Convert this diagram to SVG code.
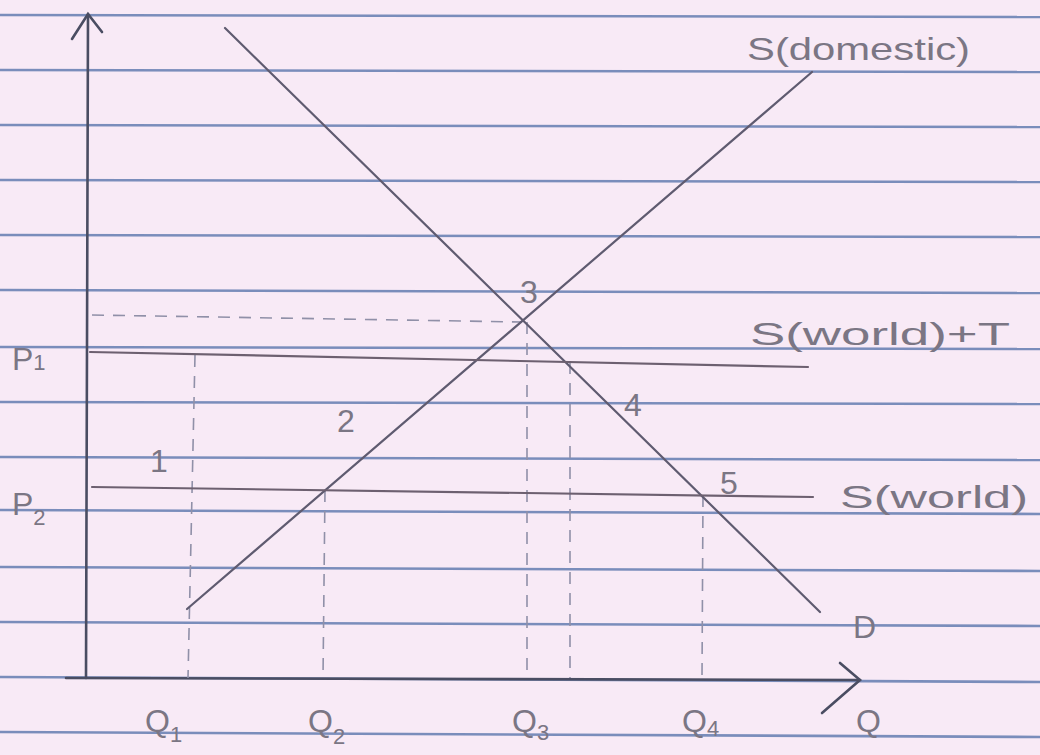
<svg xmlns="http://www.w3.org/2000/svg" width="1040" height="755" viewBox="0 0 1040 755">
<style>
.rule{stroke:#7a8dbb;stroke-width:2.6;fill:none}
.axis{stroke:#4a4d62;stroke-width:2.6;fill:none;stroke-linecap:round}
.curve{stroke:#5f5b70;stroke-width:2.2;fill:none;stroke-linecap:round}
.hline{stroke:#6d6070;stroke-width:2.2;fill:none;stroke-linecap:round}
.dash{stroke:#9090a8;stroke-width:1.6;fill:none;stroke-dasharray:12 9}
.lbl{font-family:"Liberation Sans","DejaVu Sans",sans-serif;fill:#7b7684;font-size:32px}
.sub{font-size:22px}
</style>
<rect width="1040" height="755" fill="#f8eaf6"/>
<g id="paper">
<line class="rule" x1="0" y1="15" x2="1040" y2="17"/>
<line class="rule" x1="0" y1="70" x2="1040" y2="72"/>
<line class="rule" x1="0" y1="125" x2="1040" y2="127"/>
<line class="rule" x1="0" y1="180" x2="1040" y2="182"/>
<line class="rule" x1="0" y1="235" x2="1040" y2="237"/>
<line class="rule" x1="0" y1="290" x2="1040" y2="293"/>
<line class="rule" x1="0" y1="347" x2="1040" y2="349"/>
<line class="rule" x1="0" y1="402" x2="1040" y2="404"/>
<line class="rule" x1="0" y1="457" x2="1040" y2="460"/>
<line class="rule" x1="0" y1="510" x2="1040" y2="514"/>
<line class="rule" x1="0" y1="567" x2="1040" y2="571"/>
<line class="rule" x1="0" y1="622" x2="1040" y2="626"/>
<line class="rule" x1="0" y1="677" x2="1040" y2="682"/>
<line class="rule" x1="0" y1="732" x2="1040" y2="737"/>
</g>
<g id="axes">
<line class="axis" x1="88" y1="14" x2="86" y2="678"/>
<polyline class="axis" points="72,39 88,14 102,32"/>
<line class="axis" x1="66" y1="678" x2="860" y2="680"/>
<polyline class="axis" points="840,663 860,680 822,713"/>
</g>
<g id="connectors">
<line class="dash" x1="92" y1="315" x2="522" y2="322"/>
<line class="dash" x1="195" y1="355" x2="188" y2="678"/>
<line class="dash" x1="325" y1="490" x2="323" y2="678"/>
<line class="dash" x1="527" y1="322" x2="527" y2="678"/>
<line class="dash" x1="570" y1="362" x2="570" y2="678"/>
<line class="dash" x1="703" y1="495" x2="702" y2="678"/>
</g>
<g id="curve-demand">
<line class="curve" x1="225" y1="28" x2="820" y2="612"/>
</g>
<g id="curve-supply-domestic">
<line class="curve" x1="187" y1="609" x2="812" y2="72"/>
</g>
<g id="line-world-tariff">
<line class="hline" x1="90" y1="352" x2="808" y2="367"/>
</g>
<g id="line-world">
<line class="hline" x1="92" y1="487" x2="813" y2="497"/>
</g>
<g id="labels">
<text class="lbl" x="747" y="60" textLength="223" lengthAdjust="spacingAndGlyphs">S(domestic)</text>
<text class="lbl" x="750" y="345" textLength="260" lengthAdjust="spacingAndGlyphs">S(world)+T</text>
<text class="lbl" x="840" y="508" textLength="188" lengthAdjust="spacingAndGlyphs">S(world)</text>
<text class="lbl" x="853" y="638">D</text>
<text class="lbl" x="720" y="494" font-size="28">5</text>
<text class="lbl" x="624" y="416" font-size="28">4</text>
<text class="lbl" x="520" y="303" font-size="28">3</text>
<text class="lbl" x="337" y="432" font-size="28">2</text>
<text class="lbl" x="150" y="472" font-size="28">1</text>
<text class="lbl" x="12" y="370" font-size="36">P<tspan class="sub" font-size="26" dy="0">1</tspan></text>
<text class="lbl" x="12" y="515" font-size="36">P<tspan class="sub" font-size="26" dy="10">2</tspan></text>
<text class="lbl" x="145" y="732">Q<tspan class="sub" dy="10">1</tspan></text>
<text class="lbl" x="308" y="732">Q<tspan class="sub" dy="12">2</tspan></text>
<text class="lbl" x="512" y="732">Q<tspan class="sub" dy="8">3</tspan></text>
<text class="lbl" x="682" y="732">Q<tspan class="sub" dy="4">4</tspan></text>
<text class="lbl" x="856" y="732">Q</text>
</g>
</svg>
